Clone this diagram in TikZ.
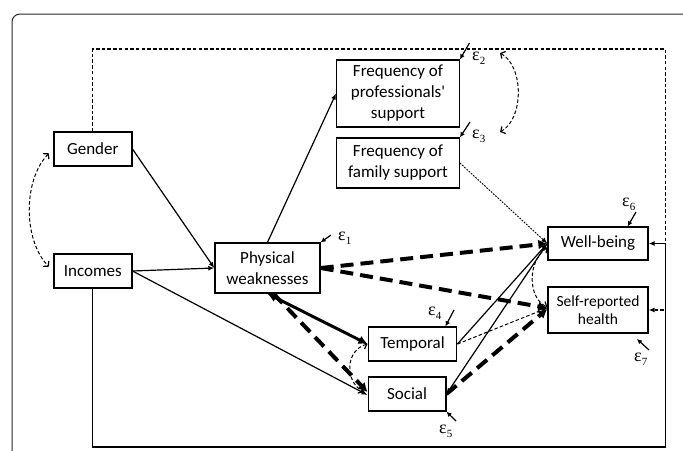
\documentclass[tikz,border=0pt]{standalone}
\usepackage{fontspec}
\setmainfont{Carlito}
\newfontfamily\epsfont{Liberation Serif}
\usetikzlibrary{arrows.meta,calc}
\newcommand\myeps[1]{{\epsfont\fontsize{18}{18}\selectfont ε\raisebox{-0.45ex}{\fontsize{11}{11}\selectfont #1}}}
\begin{document}
\begin{tikzpicture}[x=1pt,y=-1pt,
  box/.style={draw, line width=1.4pt, align=center, inner sep=0pt, font=\fontsize{17}{21}\selectfont},
  thinarrow/.style={line width=1.2pt, -{Latex[length=6pt,width=5pt]}},
  thindash/.style={line width=1.2pt, dash pattern=on 3.5pt off 2.2pt, -{Latex[length=6pt,width=5pt]}},
  dotline/.style={line width=0.9pt, dash pattern=on 1.8pt off 1.2pt, -{Latex[length=6pt,width=5pt]}},
  thickdash/.style={line width=4pt, dash pattern=on 13pt off 7pt, -{Latex[length=9pt,width=10pt]}},
  thicksolid/.style={line width=3pt, {Latex[length=9pt,width=9pt]}-{Latex[length=9pt,width=9pt]}},
  covar/.style={line width=1pt, dash pattern=on 3.5pt off 2.2pt, {Straight Barb[length=3.5pt,width=8pt,line width=1.2pt]}-{Straight Barb[length=3.5pt,width=8pt,line width=1.2pt]}},
  errarrow/.style={line width=1.2pt, -{Latex[length=5pt,width=5pt]}},
  epsl/.style={inner sep=0pt, anchor=west}]
\useasboundingbox (0,0) rectangle (683,450);
% outer frame
\draw[line width=1pt, black!85, rounded corners=8pt] (12,452) -- (12,14) -- (690,14);

% boxes
\node[box, minimum width=78pt, minimum height=34pt] (gender) at (92.8,149) {Gender};
\node[box, minimum width=78pt, minimum height=34pt] (incomes) at (92.8,271) {Incomes};
\node[box, minimum width=105pt, minimum height=50pt] (phys) at (267.5,268) {Physical\\weaknesses};
\node[box, minimum width=122.5pt, minimum height=67pt] (prof) at (398,93.5) {Frequency of\\professionals\textquotesingle\\support};
\node[box, minimum width=122.5pt, minimum height=50pt] (family) at (398,163) {Frequency of\\family support};
\node[box, minimum width=100pt, minimum height=33pt] (well) at (598,243.5) {Well-being};
\node[box, minimum width=100pt, minimum height=46pt, font=\fontsize{15.5}{18.5}\selectfont] (self) at (598,310) {Self-reported\\health};
\node[box, minimum width=88.5pt, minimum height=34pt] (temp) at (412.5,344) {Temporal};
\node[box, minimum width=77.6pt, minimum height=34pt] (social) at (407,394) {Social};

% coordinates for outer routes
\coordinate (tl) at (92.8,49);
\coordinate (tr) at (665.5,49);
\coordinate (sr) at (665.5,310);
\coordinate (bl) at (92.8,447);
\coordinate (br) at (665.5,447);
\coordinate (wr) at (665.5,243.5);

% outer routes
\draw[line width=1.3pt, -{Latex[length=6pt,width=5pt]}] (incomes.south) -- (bl) -- (br) -- (wr) -- (well.east);
\draw[thindash] (gender.north) -- (tl) -- (tr) -- (sr) -- (self.east);

% paths
\draw[thinarrow] (gender.east) -- (phys.west);
\draw[thinarrow] (incomes.east) -- (phys.west);
\draw[thinarrow] (incomes.east) -- ([yshift=-1pt]social.west);
\draw[thinarrow] (phys.north) -- (prof.west);
\draw[thicksolid] (phys.south) -- (temp.west);
\draw[thickdash] ([xshift=6pt]phys.south) -- ([yshift=2pt]social.west);
\draw[thickdash] (phys.east) -- (well.west);
\draw[thickdash] (phys.east) -- ([yshift=2pt]self.west);
\draw[thinarrow] (temp.east) -- (well.west);
\draw[thinarrow] (well.west) -- (social.east);
\draw[thindash, line width=1pt] (temp.east) -- ([yshift=2pt]self.west);
\draw[thickdash] (social.east) -- ([yshift=1pt]self.west);
\draw[dotline] (family.east) -- (well.west);

% covariances
\draw[covar, shorten <=6pt, shorten >=6pt] (gender.west) .. controls (23,180) and (23,240) .. (incomes.west);
\coordinate (c2) at (500,53);
\coordinate (c3) at (500,132);
\draw[covar] (c2) .. controls (524,66) and (524,119) .. (c3);
\draw[covar] (temp.west) .. controls (346,350) and (344,380) .. ([xshift=-4pt,yshift=2pt]social.west);
\draw[covar] ([yshift=-4pt]well.west) .. controls (527,262) and (528,298) .. ([yshift=3pt]self.west);

% error terms
\coordinate (e1s) at (331,235);
\coordinate (e2s) at (469.5,43);
\coordinate (e3s) at (470,122);
\coordinate (e4s) at (454,310);
\coordinate (e5s) at (456,421);
\coordinate (e6s) at (636,212);
\coordinate (e7s) at (649,350);
\coordinate (e7e) at (637,339);
\draw[errarrow] (e1s) -- (phys.north east);
\draw[errarrow] (e2s) -- (prof.north east);
\draw[errarrow] (e3s) -- (family.north east);
\draw[errarrow] (e4s) -- ([xshift=-12pt]temp.north east);
\draw[errarrow] (e5s) -- (social.south east);
\draw[errarrow] (e6s) -- ([xshift=-21pt]well.north east);
\draw[errarrow] (e7s) -- (e7e);

\node[epsl] (l1) at (338,238) {\myeps{1}};
\node[epsl] (l2) at (472,58.5) {\myeps{2}};
\node[epsl] (l3) at (472,136) {\myeps{3}};
\node[epsl] (l4) at (428,313) {\myeps{4}};
\node[epsl] (l5) at (439,431) {\myeps{5}};
\node[epsl] (l6) at (622,204) {\myeps{6}};
\node[epsl] (l7) at (634,359) {\myeps{7}};
\end{tikzpicture}
\end{document}
